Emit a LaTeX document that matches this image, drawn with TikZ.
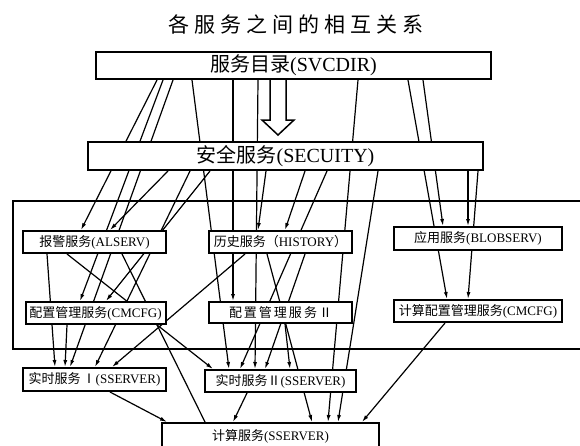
\documentclass[tikz,border=0pt]{standalone}
\usepackage{fontspec}
\setmainfont{Liberation Serif}
\newfontfamily\cjk{Noto Sans CJK SC}
\usetikzlibrary{arrows.meta}
\pgfdeclarelayer{bg}
\pgfsetlayers{bg,main}
\tikzset{
  box/.style={draw, line width=2pt, fill=white, inner sep=0pt, font=\fontsize{13}{13}\selectfont},
  bigbox/.style={box, font=\fontsize{20}{20}\selectfont},
  conn/.style={line width=1.2pt},
  arr/.style={conn, -{Latex[length=7pt,width=4pt]}},
}
\begin{document}
\begin{tikzpicture}[x=1pt,y=-1pt]
\useasboundingbox (0,0) rectangle (580,445);
% title
\node[font=\fontsize{21}{21}\selectfont\cjk] (title) at (296,24)
  {各\hspace{5pt}服\hspace{5pt}务\hspace{5pt}之\hspace{5pt}间\hspace{5pt}的\hspace{5pt}相\hspace{5pt}互\hspace{5pt}关\hspace{5pt}系};
% boxes
\node[bigbox, minimum width=395pt, minimum height=27pt] (svc) at (293.5,65.5) {{\cjk 服务目录}(SVCDIR)};
\node[bigbox, minimum width=395pt, minimum height=28pt] (sec) at (285.5,156) {{\cjk 安全服务}(SECUITY)};
\node[box, minimum width=143pt, minimum height=22pt] (al) at (94.5,242) {{\cjk 报警服务}(ALSERV)};
\node[box, minimum width=143pt, minimum height=22pt] (hi) at (280.5,242) {{\cjk 历史服务（}HISTORY{\cjk ）}};
\node[box, minimum width=168pt, minimum height=23pt] (bl) at (478,238.5) {{\cjk 应用服务}(BLOBSERV)};
\node[box, minimum width=140pt, minimum height=22pt] (cm) at (95.5,313) {{\cjk 配置管理服务}(CMCFG)};
\node[box, minimum width=143pt, minimum height=21pt] (c2) at (280.5,312.5) {\cjk 配\hspace{2pt}置\hspace{2pt}管\hspace{2pt}理\hspace{2pt}服\hspace{2pt}务\hspace{2pt}Ⅱ};
\node[box, minimum width=168pt, minimum height=22pt] (jc) at (478,311) {{\cjk 计算配置管理服务}(CMCFG)};
\node[box, minimum width=143pt, minimum height=23pt] (r1) at (94.5,379.5) {{\cjk 实时服务\,Ⅰ}(SSERVER)};
\node[box, minimum width=151pt, minimum height=22pt] (r2) at (280.5,381) {{\cjk 实时服务Ⅱ}(SSERVER)};
\node[box, minimum width=217pt, minimum height=26pt] (js) at (270.5,436) {{\cjk 计算服务}(SSERVER)};
% hollow arrow
\draw[line width=1.5pt, fill=white, line join=miter]
  (svc.south -| 270,0) -- (270,120) -- (262,120) -- (278,135) -- (294,120) -- (286,120) -- (svc.south -| 286,0);
\begin{pgfonlayer}{bg}
% container
\draw[line width=1.3pt] (13,201) rectangle (600,349);
% connectors from SVCDIR
\draw[arr] (svc.south -| 157,0) -- (al.north -| 81,0);
\draw[arr] (svc.south -| 163,0) -- (cm.north -| 80,0);
\draw[arr] (svc.south -| 173,0) -- (r1.north -| 70,0);
\draw[arr] (svc.south -| 192,0) -- (r2.north -| 229,0);
\draw[arr] (svc.south -| 233,0) -- (c2.north -| 233,0);
\draw[arr] (svc.south -| 258,0) -- (r2.north -| 255,0);
\draw[arr] (svc.south -| 358,0) -- (js.north -| 328,0);
\draw[arr] (svc.south -| 408,0) -- (jc.north -| 447,0);
\draw[arr] (svc.south -| 423,0) -- (bl.north -| 443,0);
% connectors from SECUITY
\draw[arr] (sec.south -| 168,0) -- (al.north -| 110,0);
\draw[arr] (sec.south -| 190,0) -- (r1.north -| 95,0);
\draw[arr] (sec.south -| 210,0) -- (cm.north -| 106,0);
\draw[arr] (sec.south -| 266,0) -- (hi.north -| 258,0);
\draw[arr] (sec.south -| 305,0) -- (hi.north -| 285,0);
\draw[arr] (sec.south -| 327,0) -- (r2.north -| 240,0);
\draw[arr] (sec.south -| 378,0) -- (js.north -| 338,0);
\draw[arr] (sec.south -| 468,0) -- (bl.north -| 468,0);
\draw[arr] (sec.south -| 478,0) -- (jc.north -| 468,0);
% from ALSERV
\draw[arr] (al.south -| 47,0) -- (r1.north -| 55,0);
\draw[arr] (al.south -| 67,0) -- (r2.north -| 213,0);
\draw[conn] (al.south -| 122,0) -- (js.north -| 205,0);
% from HISTORY
\draw[arr] (hi.south -| 245,0) -- (r1.north -| 112,0);
\draw[arr] (hi.south -| 267,0) -- (js.north -| 312,0);
\draw[arr] (hi.south -| 305,0) -- (r2.north -| 265,0);
% others
\draw[arr] (cm.south -| 67,0) -- (r1.north -| 65,0);
\draw[arr] (c2.south -| 285,0) -- (r2.north -| 290,0);
\draw[arr] (r1.south -| 110,0) -- (js.north -| 167,0);
\draw[arr] (r2.south -| 247,0) -- (js.north -| 233,0);
\draw[arr] (jc.south -| 445,0) -- (js.north -| 362,0);
\end{pgfonlayer}
\end{tikzpicture}
\end{document}
